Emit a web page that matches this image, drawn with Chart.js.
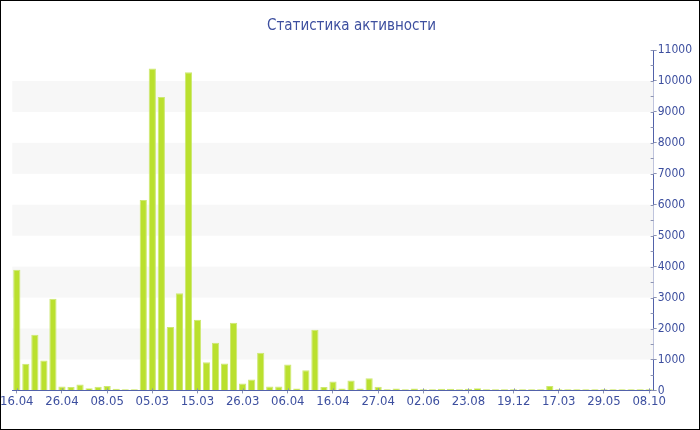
<!DOCTYPE html>
<html>
<head>
<meta charset="utf-8">
<script src="https://cdn.jsdelivr.net/npm/chart.js@4/dist/chart.umd.min.js"></script>
<style>
  html, body { margin: 0; padding: 0; background: #fff; }
  #wrap { width: 700px; height: 430px; }
</style>
</head>
<body>
<div id="wrap"><canvas id="chartBar" width="700" height="430"></canvas></div>
<script>
// tick labels shown under every 5th bar
const tickLabels = ['16.04', '26.04', '08.05', '05.03', '15.03', '26.03', '06.04', '16.04',
                    '27.04', '02.06', '23.08', '19.12', '17.03', '29.05', '08.10'];
const labelEvery = 5;

// activity per period
const activity = [
  3900, 860, 1800, 970, 2960, 130, 110, 190, 70, 120,
  140, 50, 40, 40, 6150, 10400, 9480, 2050, 3140, 10280,
  2280, 910, 1540, 870, 2190, 220, 350, 1220, 130, 130,
  840, 65, 650, 1960, 110, 290, 60, 320, 60, 390,
  120, 40, 60, 40, 60, 40, 40, 50, 50, 40,
  50, 70, 40, 40, 40, 40, 40, 40, 40, 140,
  40, 40, 40, 40, 40, 40, 40, 40, 40, 40,
  40
];

const yMax = 11000;
const titleText = 'Статистика активности';

const FONT = "'DejaVu Sans Condensed', 'Liberation Sans Narrow', 'DejaVu Sans', sans-serif";
const BLUE = '#3d4f9f';
const AXIS = '#5262aa';
const TICKGREY = '#8d94b4';

// one category per bar, only every 5th carries a date
const categories = activity.map((v, i) => i % labelEvery === 0 ? tickLabels[i / labelEvery] : '');

// alternating grey bands behind the bars
const bandsPlugin = {
  id: 'bands',
  beforeDatasetsDraw(chart) {
    const { ctx, chartArea, scales } = chart;
    const y = scales.y;
    ctx.save();
    ctx.fillStyle = '#f7f7f7';
    for (let v = 1000; v < yMax; v += 2000) {
      const top = y.getPixelForValue(v + 1000);
      const bot = y.getPixelForValue(v);
      ctx.fillRect(chartArea.left, top, chartArea.right - chartArea.left, bot - top);
    }
    ctx.restore();
  }
};

// short inner tick marks on both axes + outer border
const marksPlugin = {
  id: 'marks',
  afterDraw(chart) {
    const { ctx, chartArea, scales } = chart;
    ctx.save();
    ctx.lineWidth = 1;
    ctx.strokeStyle = TICKGREY;
    for (let v = 0; v <= yMax; v += 500) {
      const py = Math.round(scales.y.getPixelForValue(v)) + 0.5;
      ctx.beginPath();
      ctx.moveTo(chartArea.right - 3, py);
      ctx.lineTo(chartArea.right, py);
      ctx.stroke();
    }
    for (let i = 0; i < activity.length; i += labelEvery) {
      const px = Math.round(scales.x.getPixelForValue(i)) + 0.5;
      ctx.beginPath();
      ctx.moveTo(px, chartArea.bottom - 2);
      ctx.lineTo(px, chartArea.bottom);
      ctx.stroke();
    }
    ctx.strokeStyle = '#000';
    ctx.strokeRect(0.5, 0.5, chart.width - 1, chart.height - 1);
    ctx.restore();
  }
};

const data = {
  labels: categories,
  datasets: [{
    label: 'Активность',
    data: activity,
    backgroundColor: '#bae02e',
    borderColor: '#cde873',
    borderWidth: { top: 1, right: 1, left: 1, bottom: 0 },
    borderSkipped: 'bottom',
    barPercentage: 0.8,
    categoryPercentage: 1.0
  }]
};

const configBarChart = {
  type: 'bar',
  data,
  options: {
    responsive: false,
    animation: false,
    layout: { padding: { left: 10, right: 7, top: 0, bottom: 21 } },
    plugins: {
      legend: { display: false },
      tooltip: { enabled: false },
      title: {
        display: true,
        text: titleText,
        color: BLUE,
        font: { family: FONT, size: 15, weight: 'normal' },
        padding: { top: 17, bottom: 15 }
      }
    },
    scales: {
      x: {
        offset: true,
        border: { display: true, color: AXIS, width: 1 },
        grid: {
          offset: false,
          drawOnChartArea: false,
          drawTicks: true,
          tickLength: 3,
          color: (c) => (c.index % labelEvery === 0 ? TICKGREY : 'rgba(0,0,0,0)')
        },
        ticks: {
          autoSkip: false,
          maxRotation: 0,
          padding: 0,
          color: BLUE,
          font: { family: FONT, size: 13 },
          callback: (v, i) => categories[i]
        }
      },
      y: {
        position: 'right',
        min: 0,
        max: yMax,
        border: { display: true, color: AXIS, width: 1 },
        grid: {
          drawOnChartArea: false,
          drawTicks: true,
          tickLength: 3,
          color: (c) => (c.tick && c.tick.value % 1000 === 0 ? TICKGREY : 'rgba(0,0,0,0)')
        },
        ticks: {
          stepSize: 500,
          padding: 1,
          color: BLUE,
          font: { family: FONT, size: 12 },
          callback: (v) => (v % 1000 === 0 ? String(v) : '')
        }
      }
    }
  },
  plugins: [bandsPlugin, marksPlugin]
};

const chartBar = new Chart(document.getElementById('chartBar'), configBarChart);
</script>
</body>
</html>
